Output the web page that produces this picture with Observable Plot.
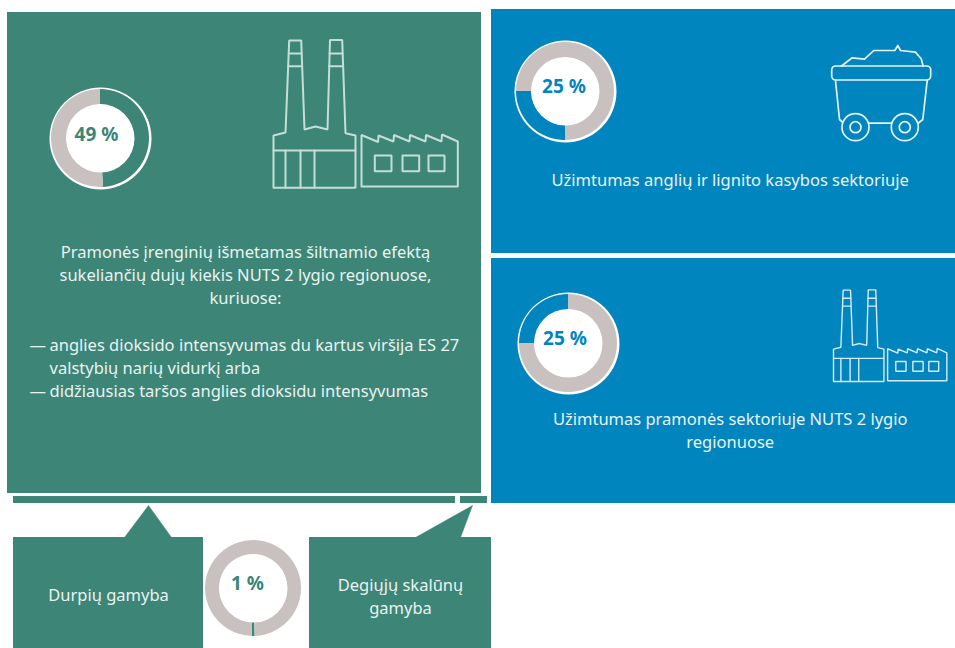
<!DOCTYPE html>
<html lang="lt">
<head>
<meta charset="utf-8">
<script src="https://cdn.jsdelivr.net/npm/d3@7"></script>
<script src="https://cdn.jsdelivr.net/npm/@observablehq/plot@0.6"></script>
<style>html,body{margin:0;padding:0;background:#fff}svg{display:block}</style>
</head>
<body>
<div id="chart"></div>
<script>
// ---- values
const donutLabels = ["49 %", "25 %", "25 %", "1 %"];
const donutShares = [49, 25, 25, 1];
const donutNames = ["Pramonė", "Anglys ir lignitas", "Pramonės užimtumas", "Degieji skalūnai"];

const greenText = [
  "Pramonės įrenginių išmetamas šiltnamio efektą",
  "sukeliančių dujų kiekis NUTS 2 lygio regionuose,",
  "kuriuose:"
];
const bulletText = [
  "anglies dioksido intensyvumas du kartus viršija ES 27",
  "valstybių narių vidurkį arba",
  "didžiausias taršos anglies dioksidu intensyvumas"
];
const bulletDashes = ["—", "", "—"];
const blueTextA = ["Užimtumas anglių ir lignito kasybos sektoriuje"];
const blueTextB = ["Užimtumas pramonės sektoriuje NUTS 2 lygio", "regionuose"];
const calloutA = ["Durpių gamyba"];
const calloutB = ["Degiųjų skalūnų", "gamyba"];

// ---- layout
const GREEN = "#3c8577", BLUE = "#0085bf", GREY = "#c9c1bf", INK = "#e9f3f1";
const panels = [
  {x1: 7, x2: 481, y1: 12, y2: 493, c: GREEN},
  {x1: 13, x2: 455, y1: 496, y2: 503, c: GREEN},
  {x1: 460, x2: 487, y1: 496, y2: 503, c: GREEN},
  {x1: 491, x2: 955, y1: 9, y2: 253, c: BLUE},
  {x1: 491, x2: 955, y1: 258, y2: 503, c: BLUE},
  {x1: 13, x2: 203, y1: 537, y2: 648, c: GREEN},
  {x1: 309, x2: 491, y1: 537, y2: 648, c: GREEN}
];
const pointerA = [[124, 537], [148, 505], [171, 537]];
const pointerB = [[415, 537], [472, 505], [460, 537]];
const donutLayout = [
  {cx: 100, cy: 138, r: 49, hole: 34, start: 0, c: GREEN, halo: 51, tx: 96, ty: 134},
  {cx: 565, cy: 91, r: 49, hole: 34, start: 180, c: BLUE, halo: 51, tx: 563.5, ty: 86.5},
  {cx: 568, cy: 343, r: 49, hole: 34, start: 270, c: BLUE, halo: 51, tx: 564.5, ty: 338.5},
  {cx: 253, cy: 588, r: 48, hole: 34, start: 178, c: GREEN, halo: 48, tx: 247, ty: 583}
];
const donuts = donutShares.map((v, i) => ({value: v, label: donutLabels[i], name: donutNames[i], ...donutLayout[i]}));
const slices = donuts.flatMap(d => [
  {...d, a0: d.start, a1: d.start + d.value * 3.6, fillc: d.c},
  {...d, a0: d.start + d.value * 3.6, a1: d.start + 360, fillc: GREY}
]);

// ---- icon outlines
const factoryPaths = [
  [[273,187.3],[273,135],[285,132],[288.7,40],[300.7,40],[304,129],[315,126],[327,129],[329.5,39.5],[341.7,39.5],[345,132.7],[355,135],[355,187.3],[273,187.3]],
  [[288.2,53],[301,53]], [[287.7,65.7],[301.5,65.7]],
  [[329,53],[342,53]], [[328.6,65.7],[342.5,65.7]],
  [[273,150],[355,150]],
  [[285,150],[285,187.3]], [[300,150],[300,187.3]], [[314,150],[314,187.3]],
  [[361,186],[361,134.5],[377.6,141.5],[378,135],[393,141],[393.5,134.5],[409,141],[409.5,134.5],[425,141],[425.5,134.5],[441,141],[441.5,134],[457.3,141],[457.3,186],[361,186]],
  [[374.3,155],[391,155],[391,170.7],[374.3,170.7],[374.3,155]],
  [[402,155],[418.7,155],[418.7,170.7],[402,170.7],[402,155]],
  [[428,155],[444,155],[444,170.7],[428,170.7],[428,155]]
];
const cartPaths = [
  [[840.7,65.7],[851.7,57.3],[864,58.7],[873.3,50],[894.3,50],[897.3,45],[900,50],[915,51.7],[920.7,58.3],[922.7,65.7]],
  [[835,80],[839,119],[843,122.5]],
  [[926.7,80],[922.3,119],[918,122.5]],
  [[867.5,122.7],[891.5,122.7]]
];
const cartTray = [{x1: 831.7, x2: 930.7, y1: 66, y2: 80}];
const cartWheels = [{x: 855, y: 126.7}, {x: 904.3, y: 126.7}];

const toRows = (paths, fx = p => p[0], fy = p => p[1]) =>
  paths.flatMap((path, id) => path.map(p => ({id, x: fx(p), y: fy(p)})));
const factoryBig = toRows(factoryPaths);
const factorySmall = toRows(factoryPaths,
  p => 833 + (p[0] - 273) * 0.615,
  p => 381 + (p[1] - 187.3) * 0.62);
const cartRows = toRows(cartPaths);

const lineRows = (lines, x, y0, step = 23) => lines.map((t, i) => ({t, x, y: y0 + i * step}));
const font = {fontFamily: "'Noto Sans', sans-serif"};
const bodyText = {x: "x", y: "y", text: "t", fill: INK, fontSize: 16.5, lineAnchor: "middle", ...font};

// Donut slices: a dot mark whose positions go through Plot's scales, rendered as d3 arcs.
const donutSlices = Plot.dot(slices, {
  x: "cx", y: "cy", fill: "fillc", r: 1,
  render(index, scales, values) {
    const g = d3.create("svg:g");
    const arc = d3.arc();
    for (const i of index) {
      const s = slices[i];
      g.append("path")
        .attr("transform", `translate(${values.x[i]},${values.y[i]})`)
        .attr("fill", s.fillc)
        .attr("d", arc({innerRadius: s.hole, outerRadius: s.r,
          startAngle: s.a0 * Math.PI / 180, endAngle: s.a1 * Math.PI / 180}));
    }
    return g.node();
  }
});

const plot = Plot.plot({
  width: 955, height: 648, margin: 0,
  x: {domain: [0, 955], range: [0, 955], axis: null},
  y: {domain: [0, 648], range: [0, 648], axis: null},
  r: {type: "identity"},
  style: {background: "#fff"},
  marks: [
    Plot.rect(panels, {x1: "x1", x2: "x2", y1: "y1", y2: "y2", fill: "c", inset: 0}),
    Plot.line(pointerA, {x: d => d[0], y: d => d[1], fill: GREEN, stroke: GREEN, strokeWidth: 0.5}),
    Plot.line(pointerB, {x: d => d[0], y: d => d[1], fill: GREEN, stroke: GREEN, strokeWidth: 0.5}),

    // icons
    Plot.line(factoryBig, {x: "x", y: "y", z: "id", stroke: "#c4dfd8", strokeWidth: 2, strokeLinejoin: "miter"}),
    Plot.line(factorySmall, {x: "x", y: "y", z: "id", stroke: "#d6ebf5", strokeWidth: 1.4, strokeLinejoin: "miter"}),
    Plot.line(cartRows, {x: "x", y: "y", z: "id", stroke: "#e6f3f8", strokeWidth: 1.7}),
    Plot.rect(cartTray, {x1: "x1", x2: "x2", y1: "y1", y2: "y2", fill: "none", stroke: "#e6f3f8", strokeWidth: 1.7, rx: 4}),
    Plot.dot(cartWheels, {x: "x", y: "y", r: 13.5, fill: BLUE, stroke: "#e6f3f8", strokeWidth: 1.7}),
    Plot.dot(cartWheels, {x: "x", y: "y", r: 5.5, stroke: "#e6f3f8", strokeWidth: 1.7}),

    // donuts
    Plot.dot(donuts, {x: "cx", y: "cy", r: "halo", fill: "#fff", stroke: "none"}),
    donutSlices,
    Plot.dot(donuts, {x: "cx", y: "cy", r: "hole", fill: "#fff", stroke: "none"}),
    Plot.text(donuts, {x: "tx", y: "ty", text: "label", fill: "c", fontSize: 19, fontWeight: 700, lineAnchor: "middle", ...font}),

    // text
    Plot.text(lineRows(greenText, 245, 252.5), {...bodyText}),
    Plot.text(lineRows(bulletDashes, 29, 345), {...bodyText, textAnchor: "start"}),
    Plot.text(lineRows(bulletText, 49, 345), {...bodyText, textAnchor: "start"}),
    Plot.text(lineRows(blueTextA, 729.7, 180), {...bodyText}),
    Plot.text(lineRows(blueTextB, 729.7, 419), {...bodyText}),
    Plot.text(lineRows(calloutA, 108, 595.5), {...bodyText}),
    Plot.text(lineRows(calloutB, 400, 585), {...bodyText})
  ]
});
document.getElementById("chart").append(plot);
</script>
</body>
</html>
